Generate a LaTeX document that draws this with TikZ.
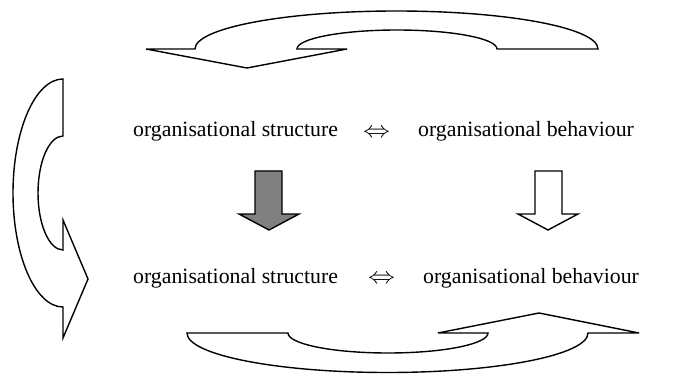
\documentclass[tikz,border=0pt]{standalone}
\usepackage{fontspec}
\setmainfont{Liberation Serif}
\begin{document}
\begin{tikzpicture}[x=1pt,y=-1pt,
  blockarrow/.style={draw=black,line width=1.4pt,line join=miter,fill=white},
  label/.style={inner sep=0pt,anchor=base west,font=\fontsize{21.8}{26}\selectfont},
  equiv/.style={inner sep=0pt,anchor=base,font=\fontsize{21.8}{26}\selectfont}]
\useasboundingbox (0,0) rectangle (690,374);
% top curved arrow
\draw[blockarrow] (195,49) arc[start angle=180,end angle=360,x radius=201.5,y radius=38]
  -- (497,49) arc[start angle=0,end angle=-180,x radius=100,y radius=19]
  -- (347,49) -- (247,68) -- (146,49) -- cycle;
% left curved arrow
\draw[blockarrow] (63,79) arc[start angle=-90,end angle=-270,x radius=50,y radius=114]
  -- (63,338) -- (88,279) -- (63,220) -- (63,250)
  arc[start angle=90,end angle=270,x radius=25,y radius=57] -- cycle;
% bottom curved arrow
\draw[blockarrow] (187,333) arc[start angle=180,end angle=0,x radius=200.5,y radius=39.5]
  -- (639,333) -- (539,313) -- (438,333) -- (488,333)
  arc[start angle=0,end angle=180,x radius=100,y radius=20] -- cycle;
% down arrows
\draw[blockarrow,fill={rgb,255:red,128;green,128;blue,128}] (255,171) -- (282,171) -- (282,214) -- (299,214) -- (269,230) -- (239,214) -- (255,214) -- cycle;
\draw[blockarrow] (535,171) -- (562,171) -- (562,214) -- (578,214) -- (548,230) -- (518,214) -- (535,214) -- cycle;
% texts
\node[label] (s1) at (133,137) {organisational structure};
\node[equiv] (e1) at (376.5,137.5) {\scalebox{1.3}[1.1]{$\Leftrightarrow$}};
\node[label] (b1) at (418,137) {organisational behaviour};
\node[label] (s2) at (133,283) {organisational structure};
\node[equiv] (e2) at (381.5,283.5) {\scalebox{1.3}[1.1]{$\Leftrightarrow$}};
\node[label] (b2) at (423,283) {organisational behaviour};
\end{tikzpicture}
\end{document}
